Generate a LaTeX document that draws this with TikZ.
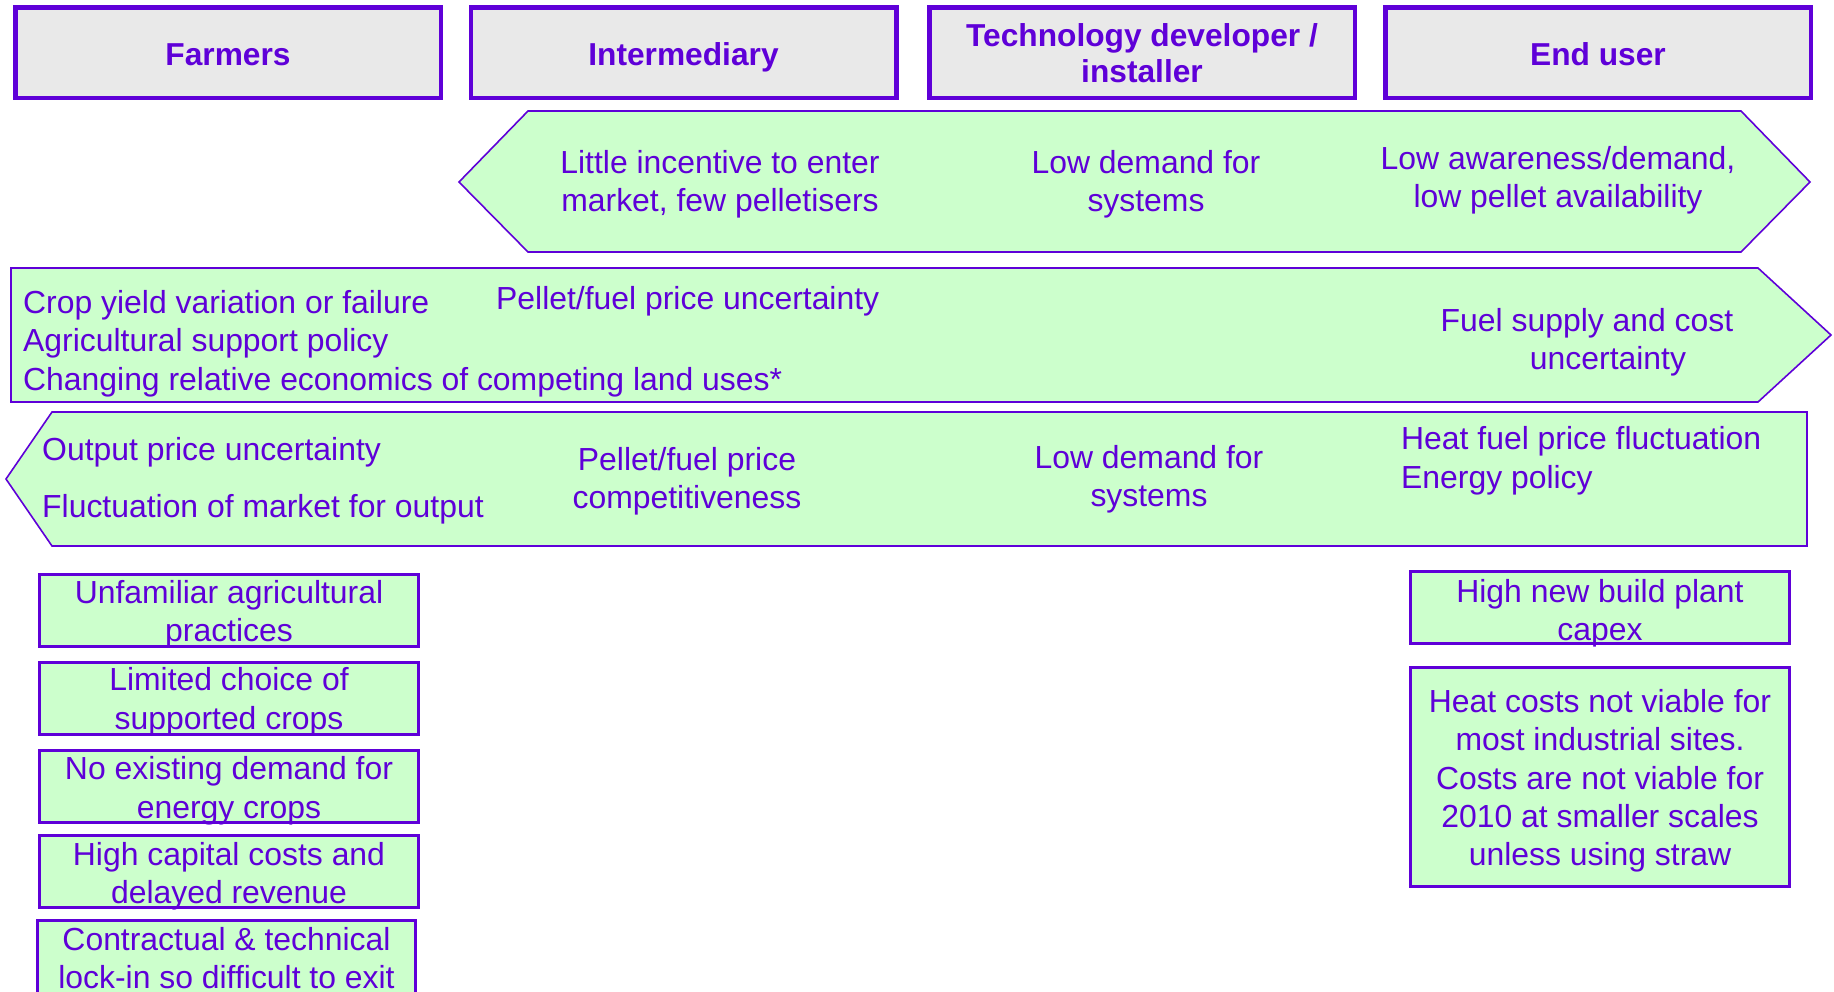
\documentclass[tikz,border=0pt]{standalone}
\usepackage{fontspec}
\setmainfont{Liberation Sans}
\definecolor{pur}{HTML}{5F00D8}
\definecolor{grn}{HTML}{CCFFCC}
\definecolor{hdr}{HTML}{E9E9E9}
\begin{document}
\begin{tikzpicture}[x=1pt,y=-1pt,
  txt/.style={text=pur, inner sep=0pt, font=\fontsize{31.9}{38}\selectfont, align=center},
  one/.style={text height=23pt, text depth=7pt},
  lft/.style={align=left, anchor=west},
  hdrtxt/.style={txt, font=\fontsize{31.7}{36}\selectfont\bfseries},
  hdrbox/.style={draw=pur, line width=4.5pt, fill=hdr, minimum width=425.5pt, minimum height=90.5pt, inner sep=0pt},
  gbox/.style={draw=pur, line width=2.6pt, fill=grn, minimum width=379.4pt, minimum height=72.4pt, inner sep=0pt},
  band/.style={draw=pur, line width=1.6pt, fill=grn, line join=miter}
]
\useasboundingbox (0,0) rectangle (1834,991);
\fill[white] (0,0) rectangle (1834,991);
\clip (0,0) rectangle (1834,991);

% bands
\draw[band] (459,182) -- (528,111) -- (1741,111) -- (1810,182) -- (1741,252) -- (528,252) -- cycle;
\draw[band] (11,268) -- (1758,268) -- (1831,335) -- (1758,402) -- (11,402) -- cycle;
\draw[band] (6,479) -- (52,412) -- (1807,412) -- (1807,546) -- (52,546) -- cycle;

% header boxes
\node[hdrbox] (hFarm) at (228,52.5) {};
\node[hdrbox] (hInt) at (683.5,52.5) {};
\node[hdrbox] (hTech) at (1142,52.5) {};
\node[hdrbox] (hEnd) at (1598,52.5) {};
\node[hdrtxt, one] (hFarmT) at (228,57) {Farmers};
\node[hdrtxt, one] (hIntT) at (683.5,57) {Intermediary};
\node[hdrtxt] (hTechT) at (1142,53.5) {Technology developer /\\installer};
\node[hdrtxt, one] (hEndT) at (1598,57) {End user};

% top band texts
\node[txt] (t1) at (720,184.5) {Little incentive to enter\\market, few pelletisers};
\node[txt] (t2) at (1146,184.5) {Low demand for\\systems};
\node[txt] (t3) at (1558,180) {Low awareness/demand,\\low pellet availability};

% second band texts
\node[txt, lft, font=\fontsize{31.9}{38.5}\selectfont] (r2a) at (23,343.5) {Crop yield variation or failure\\Agricultural support policy\\Changing relative economics of competing land uses*};
\node[txt, lft, one] (r2b) at (496,301) {Pellet/fuel price uncertainty};
\node[txt] (r2c) at (1587,342) {Fuel supply and cost\\\hspace*{42pt}uncertainty};

% third band texts
\node[txt, lft, one] (r3a) at (42,452) {Output price uncertainty};
\node[txt, lft, one] (r3b) at (42,509) {Fluctuation of market for output};
\node[txt] (r3c) at (687,481) {Pellet/fuel price\\competitiveness};
\node[txt] (r3d) at (1149,479) {Low demand for\\systems};
\node[txt, lft, font=\fontsize{31.9}{39}\selectfont] (r3e) at (1401,460.5) {Heat fuel price fluctuation\\Energy policy};

% farmer boxes
\node[gbox] (b1) at (229,610.5) {};
\node[gbox] (b2) at (229,698.5) {};
\node[gbox] (b3) at (229,786.5) {};
\node[gbox] (b4) at (229,871.5) {};
\node[gbox, minimum width=378.4pt, minimum height=88.4pt] (b5) at (226.5,964.5) {};
\node[txt] (b1t) at (229,614) {Unfamiliar agricultural\\practices};
\node[txt, font=\fontsize{31.9}{39}\selectfont] (b2t) at (229,702) {Limited choice of\\supported crops};
\node[txt, font=\fontsize{31.9}{39}\selectfont] (b3t) at (229,790.5) {No existing demand for\\energy crops};
\node[txt] (b4t) at (229,876) {High capital costs and\\delayed revenue};
\node[txt] (b5t) at (226.5,958) {Contractual \& technical\\lock-in so difficult to exit};

% end user boxes
\node[gbox] (bA) at (1600,607.5) {};
\node[gbox, minimum height=219.4pt] (bB) at (1600,777) {};
\node[txt] (bAt) at (1600,613) {High new build plant\\capex};
\node[txt, font=\fontsize{31.9}{38.3}\selectfont] (bBt) at (1600,781) {Heat costs not viable for\\most industrial sites.\\Costs are not viable for\\2010 at smaller scales\\unless using straw};
\end{tikzpicture}
\end{document}
